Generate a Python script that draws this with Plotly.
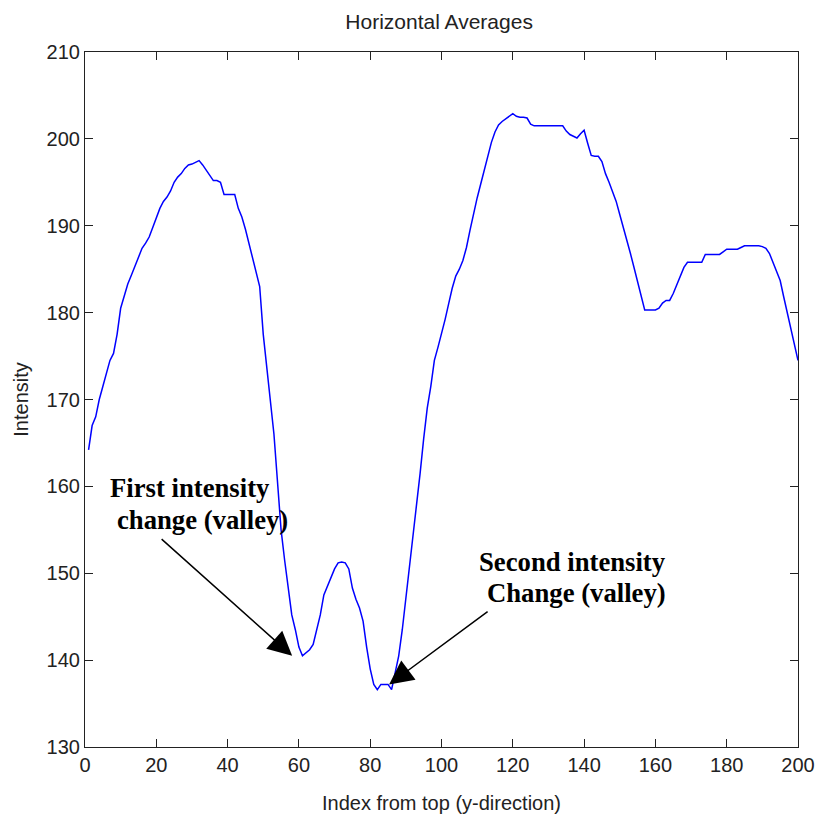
import plotly.graph_objects as go

index = list(range(1, 201))
intensity = [
    164.2, 167.0, 168.0, 170.0, 171.5, 173.0, 174.5, 175.3, 177.5, 180.5,
    182.0, 183.3, 184.3, 185.3, 186.5, 187.4, 188.0, 188.7, 189.8, 191.0,
    192.0, 192.8, 193.3, 194.0, 195.0, 195.6, 196.0, 196.6, 197.0, 197.1,
    197.3, 197.5, 197.0, 196.4, 195.8, 195.2, 195.2, 195.0, 193.6, 193.6,
    193.6, 193.6, 192.0, 191.0, 189.6, 188.0, 186.2, 184.8, 183.0, 177.5,
    173.7, 170.2, 166.0, 160.5, 155.0, 151.5, 148.0, 145.2, 143.5, 141.5,
    140.5, 140.8, 141.2, 141.8, 143.5, 145.2, 147.5, 148.5, 149.5, 150.5,
    151.2, 151.3, 151.2, 150.5, 148.3, 147.0, 146.0, 144.5, 141.5, 139.0,
    137.2, 136.6, 137.2, 137.2, 137.2, 136.6, 138.4, 140.5, 143.5, 147.0,
    150.5, 153.8, 157.5, 161.5, 165.5, 169.0, 171.5, 174.5, 176.0, 177.5,
    179.2, 181.0, 182.8, 184.2, 185.0, 186.0, 187.5, 189.5, 191.5, 193.2,
    194.8, 196.5, 198.2, 199.6, 200.8, 201.6, 202.0, 202.3, 202.6, 202.9,
    202.6, 202.5, 202.5, 202.4, 201.7, 201.5, 201.5, 201.5, 201.5, 201.5,
    201.5, 201.5, 201.5, 201.5, 200.9, 200.5, 200.3, 200.1, 200.6, 201.0,
    199.5, 198.1, 198.0, 198.0, 197.4, 196.0, 195.0, 194.0, 192.8, 191.3,
    189.9, 188.4, 186.8, 185.2, 183.6, 181.8, 180.3, 180.3, 180.3, 180.3,
    180.5, 181.1, 181.4, 181.4, 182.2, 183.2, 184.2, 185.2, 185.8, 185.8,
    185.8, 185.8, 185.8, 186.7, 186.7, 186.7, 186.7, 186.7, 187.0, 187.3,
    187.3, 187.3, 187.3, 187.5, 187.7, 187.7, 187.7, 187.7, 187.7, 187.6,
    187.4, 186.8, 185.7, 184.7, 183.7, 181.8, 180.0, 178.0, 176.2, 174.5,
]

x_ticks = [0, 20, 40, 60, 80, 100, 120, 140, 160, 180, 200]
y_ticks = [130, 140, 150, 160, 170, 180, 190, 200, 210]

first_valley = (58.1, 140.5)
second_valley = (85.3, 137.2)

fig = go.Figure()
fig.add_trace(go.Scatter(x=index, y=intensity, mode="lines",
                         line=dict(color="#0000FF", width=1.5),
                         showlegend=False, hoverinfo="skip"))

axis_common = dict(showgrid=False, zeroline=False, showline=True, linecolor="#222222",
                   linewidth=1.2, mirror="ticks", ticks="inside", ticklen=8,
                   tickcolor="#222222", tickwidth=1.2, automargin=False,
                   tickfont=dict(family="Liberation Sans, Arial", size=20, color="#222222"))

fig.update_xaxes(range=[0, 200], tickvals=x_ticks, ticktext=[str(v) for v in x_ticks],
                 title=dict(text="Index from top (y-direction)", standoff=20,
                            font=dict(family="Liberation Sans, Arial", size=20, color="#222222")),
                 **axis_common)
fig.update_yaxes(range=[130, 210], tickvals=y_ticks, ticktext=[str(v) for v in y_ticks],
                 title=dict(text="Intensity", standoff=12,
                            font=dict(family="Liberation Sans, Arial", size=20, color="#222222")),
                 **axis_common)

serif = dict(family="Liberation Serif, Times New Roman", size=26.7, color="black")

fig.add_annotation(x=first_valley[0], y=first_valley[1], ax=-132, ay=-118,
                   showarrow=True, arrowhead=2, arrowsize=3.2, arrowwidth=1.5,
                   arrowcolor="black", text="")
fig.add_annotation(x=second_valley[0], y=second_valley[1], ax=100, ay=-74,
                   showarrow=True, arrowhead=2, arrowsize=3.2, arrowwidth=1.5,
                   arrowcolor="black", text="")

fig.add_annotation(x=108, y=488, xref="paper", yref="paper", text="<b>First intensity</b>",
                   showarrow=False, font=serif, xanchor="left", yanchor="middle")
fig.add_annotation(x=115, y=520, xref="paper", yref="paper", text="<b>change (valley)</b>",
                   showarrow=False, font=serif, xanchor="left", yanchor="middle")
fig.add_annotation(x=668, y=562, xref="paper", yref="paper", text="<b>Second intensity</b>",
                   showarrow=False, font=serif, xanchor="right", yanchor="middle")
fig.add_annotation(x=668, y=593, xref="paper", yref="paper", text="<b>Change (valley)</b>",
                   showarrow=False, font=serif, xanchor="right", yanchor="middle")

# convert pixel positions of text annotations to paper coordinates
L, R, T, B = 85, 19, 52, 73
W, H = 817, 820
pw, ph = W - L - R, H - T - B
for ann in fig.layout.annotations:
    if ann.xref == "paper":
        ann.x = (ann.x - L) / pw
        ann.y = 1 - (ann.y - T) / ph

fig.update_layout(
    width=W, height=H,
    margin=dict(l=L, r=R, t=T, b=B),
    paper_bgcolor="white", plot_bgcolor="white",
    title=dict(text="Horizontal Averages", x=0.5375, xanchor="center", y=1 - 22 / H,
               yanchor="middle",
               font=dict(family="Liberation Sans, Arial", size=21, color="#222222")),
)

fig.write_html("out.html", config={"displayModeBar": False},
               post_script="document.body.style.margin='0';")
